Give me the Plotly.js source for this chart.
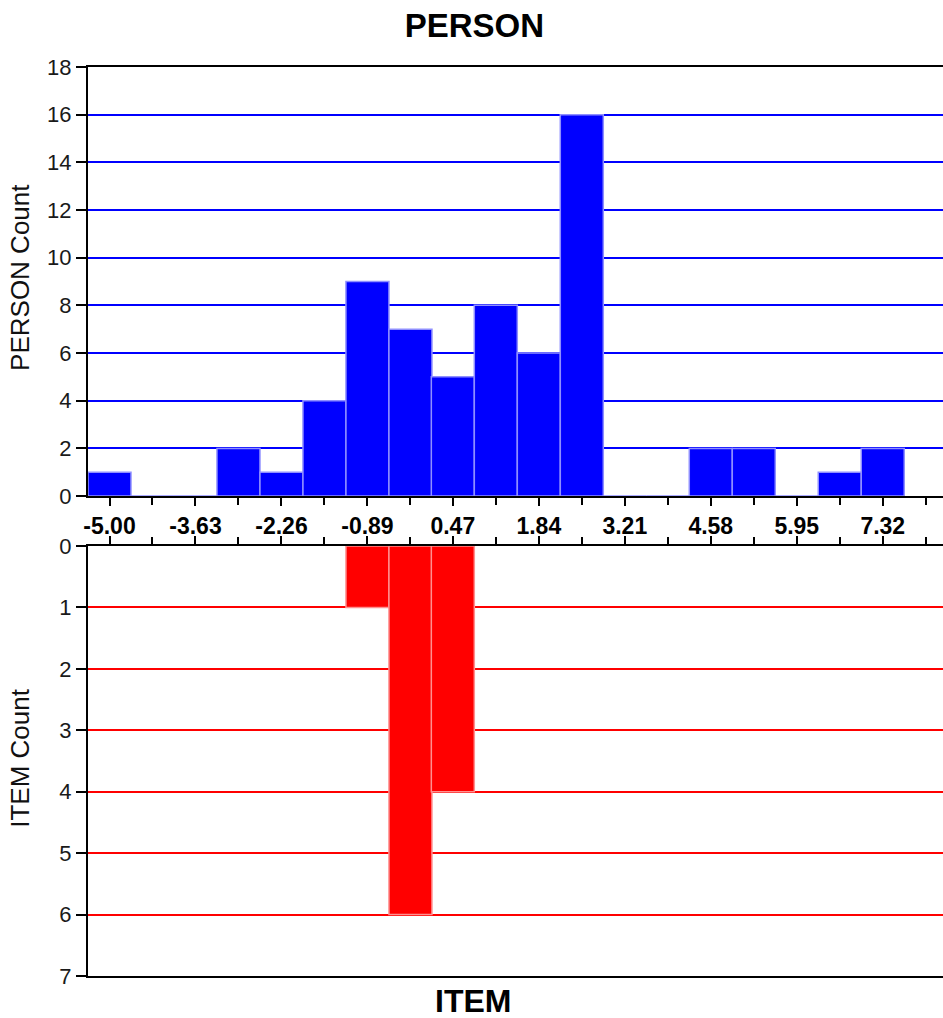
<!DOCTYPE html>
<html>
<head>
<meta charset="utf-8">
<script src="https://cdn.plot.ly/plotly-3.0.1.min.js"></script>
<style>html,body{margin:0;padding:0;background:#fff;}#chart{width:943px;height:1018px;}</style>
</head>
<body>
<div id="chart"></div>
<script>
// ---- data ----
var binCenters = [-5.00, -4.315, -3.63, -2.945, -2.26, -1.575, -0.89, -0.205, 0.47, 1.155, 1.84, 2.525, 3.21, 3.895, 4.58, 5.265, 5.95, 6.635, 7.32];
var personCounts = [1, 0, 0, 2, 1, 4, 9, 7, 5, 8, 6, 16, 0, 0, 2, 2, 0, 1, 2];
var itemCenters = [-0.89, -0.205, 0.47];
var itemCounts = [1, 6, 4];
var binWidth = 0.685;
var tickLabels = ['-5.00', '-3.63', '-2.26', '-0.89', '0.47', '1.84', '3.21', '4.58', '5.95', '7.32'];
var tickValues = [-5.00, -3.63, -2.26, -0.89, 0.47, 1.84, 3.21, 4.58, 5.95, 7.32];
var minorTickValues = [-4.315, -2.945, -1.575, -0.205, 1.155, 2.525, 3.895, 5.265, 6.635, 8.005];
var personTicks = [0, 2, 4, 6, 8, 10, 12, 14, 16, 18];
var itemTicks = [0, 1, 2, 3, 4, 5, 6, 7];

var FONT = 'Liberation Sans, Arial, sans-serif';

var traces = [
  {
    type: 'bar', x: binCenters, y: personCounts, width: binWidth,
    xaxis: 'x', yaxis: 'y',
    marker: {color: '#0000ff', line: {color: '#8f8fff', width: 1.5}},
    hoverinfo: 'x+y', showlegend: false
  },
  {
    type: 'bar', x: itemCenters, y: itemCounts, width: binWidth,
    xaxis: 'x2', yaxis: 'y2',
    marker: {color: '#ff0000', line: {color: '#ff9090', width: 1.5}},
    hoverinfo: 'x+y', showlegend: false
  }
];

var xRange = [-5.3425, 8.28];

var layout = {
  width: 943, height: 1018,
  margin: {l: 88, r: 0, t: 67, b: 42},
  paper_bgcolor: '#ffffff', plot_bgcolor: '#ffffff',
  bargap: 0,
  font: {family: FONT, color: '#111111'},
  title: {
    text: '<b>PERSON</b>',
    font: {family: FONT, size: 33, color: '#000000'},
    xref: 'container', x: 0.503, xanchor: 'center',
    yref: 'container', y: 0.975, yanchor: 'middle'
  },
  xaxis: {
    domain: [0, 1], anchor: 'y', range: xRange,
    tickmode: 'array', tickvals: tickValues, ticktext: tickLabels,
    ticks: 'outside', ticklen: 8, tickwidth: 2, tickcolor: '#000',
    minor: {tickmode: 'array', tickvals: minorTickValues, ticks: 'outside', ticklen: 7, tickwidth: 2, tickcolor: '#000', showgrid: false},
    showline: true, linecolor: '#000', linewidth: 2, mirror: true,
    showgrid: false, zeroline: false, tickangle: 0,
    tickfont: {family: FONT, size: 23, color: '#000', weight: 'bold'},
    ticklabelstandoff: 0, automargin: false
  },
  yaxis: {
    domain: [0.528, 1], anchor: 'x', range: [0, 18],
    tickmode: 'array', tickvals: personTicks,
    ticks: 'outside', ticklen: 10, tickwidth: 2, tickcolor: '#000',
    showline: true, linecolor: '#000', linewidth: 2,
    showgrid: true, gridcolor: '#0000ff', gridwidth: 2, zeroline: false,
    tickfont: {family: FONT, size: 22, color: '#1a1a1a'}
  },
  xaxis2: {
    domain: [0, 1], anchor: 'y2', range: xRange, side: 'top',
    tickmode: 'array', tickvals: tickValues, showticklabels: false,
    ticks: 'outside', ticklen: 8, tickwidth: 2, tickcolor: '#000',
    minor: {tickmode: 'array', tickvals: minorTickValues, ticks: 'outside', ticklen: 7, tickwidth: 2, tickcolor: '#000', showgrid: false},
    showline: true, linecolor: '#000', linewidth: 2, mirror: true,
    showgrid: false, zeroline: false
  },
  yaxis2: {
    domain: [0, 0.473], anchor: 'x2', range: [7, 0],
    tickmode: 'array', tickvals: itemTicks,
    ticks: 'outside', ticklen: 10, tickwidth: 2, tickcolor: '#000',
    showline: true, linecolor: '#000', linewidth: 2,
    showgrid: true, gridcolor: '#ff0000', gridwidth: 2, zeroline: false,
    tickfont: {family: FONT, size: 22, color: '#1a1a1a'}
  },
  annotations: [
    {text: 'PERSON Count', xref: 'paper', yref: 'paper', x: -0.0795, y: 0.768,
     xanchor: 'center', yanchor: 'middle', textangle: -90, showarrow: false,
     font: {family: FONT, size: 26, color: '#111'}},
    {text: 'ITEM Count', xref: 'paper', yref: 'paper', x: -0.0795, y: 0.239,
     xanchor: 'center', yanchor: 'middle', textangle: -90, showarrow: false,
     font: {family: FONT, size: 26, color: '#111'}},
    {text: '<b>ITEM</b>', xref: 'paper', yref: 'paper', x: 0.45, y: -0.0275,
     xanchor: 'center', yanchor: 'middle', showarrow: false,
     font: {family: FONT, size: 32, color: '#000'}}
  ]
};

Plotly.newPlot('chart', traces, layout, {displayModeBar: false, staticPlot: true});
</script>
</body>
</html>
